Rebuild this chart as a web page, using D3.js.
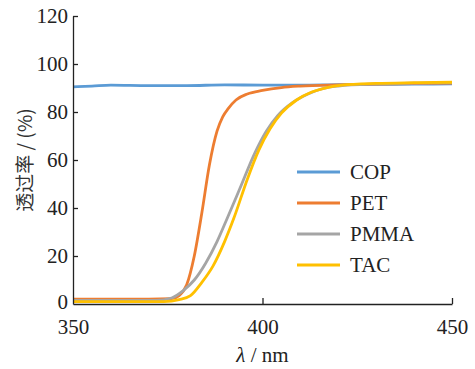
<!DOCTYPE html>
<html lang="zh">
<head>
<meta charset="utf-8">
<title>透过率</title>
<script src="https://cdn.jsdelivr.net/npm/d3@7"></script>
<style>
  body { margin: 0; background: #fff; }
  svg text { font-family: "Liberation Serif", "Times New Roman", Times, serif; }
  .axis path, .axis line { stroke: #222; stroke-width: 1.3; }
  .line { fill: none; stroke-width: 2.8; stroke-linejoin: round; }
</style>
</head>
<body>
<script>
// data
var seriesNames = ["COP", "PET", "PMMA", "TAC"];
var colors = ["#5b9bd5", "#ed7d31", "#a5a5a5", "#ffc000"];

var copX = [350, 355, 360, 370, 380, 390, 400, 410, 420, 430, 440, 450];
var copY = [90.5, 90.8, 91.2, 91, 91, 91.3, 91.2, 91.2, 91.4, 91.5, 91.6, 91.7];

var petX = [350, 370, 376, 378, 380, 382, 384, 386, 388, 389.5, 391, 393, 396, 400, 405, 410, 420, 430, 450];
var petY = [2, 2, 2.2, 3.5, 8, 20, 38, 58, 72, 78, 81.5, 85, 87.5, 89, 90.2, 90.8, 91.3, 91.6, 92];

var pmmaX = [350, 372, 376, 379, 382, 385, 388, 390.5, 394, 398, 401, 404, 408, 412, 416, 420, 430, 440, 450];
var pmmaY = [1.5, 1.5, 2.5, 5.5, 10, 17, 26, 35, 48, 63, 72, 78.5, 84, 87.5, 89.8, 90.8, 91.7, 92, 92.2];

var tacX = [350, 374, 378, 381, 384, 387, 390, 392.5, 396, 399, 402, 405, 409, 413, 417, 421, 430, 440, 450];
var tacY = [1, 1, 1.8, 3.5, 9, 16, 26, 36, 52, 64, 73, 79.5, 85, 88.3, 90.2, 91.2, 91.9, 92.2, 92.4];

var xTicks = [350, 400, 450];
var yTicks = [0, 20, 40, 60, 80, 100, 120];

var w = 475, h = 369;
var padL = 73, padR = 452, padT = 16, padB = 304;
var serif = "'Liberation Serif', 'Times New Roman', Times, serif";
var fs = "21px";

var xScale = d3.scaleLinear().domain([350, 450]).range([padL, padR]);
var yScale = d3.scaleLinear().domain([0, 120]).range([padB, padT]);

var svg = d3.select("body").append("svg")
  .attr("width", w)
  .attr("height", h);

var allX = [copX, petX, pmmaX, tacX];
var allY = [copY, petY, pmmaY, tacY];
var series = seriesNames.map(function(name, i) {
  return {
    name: name,
    color: colors[i],
    points: allX[i].map(function(x, j) { return { x: x, y: allY[i][j] }; })
  };
});

var line = d3.line()
  .curve(d3.curveMonotoneX)
  .x(function(d) { return xScale(d.x); })
  .y(function(d) { return yScale(d.y); });

svg.selectAll(".line")
  .data(series)
  .enter().append("path")
  .attr("class", "line")
  .attr("stroke", function(d) { return d.color; })
  .attr("d", function(d) { return line(d.points); });

// x axis, ticks pointing up
var xAxis = svg.append("g")
  .attr("class", "axis")
  .attr("transform", "translate(0," + padB + ")")
  .call(d3.axisBottom(xScale).tickValues(xTicks).tickSize(-6).tickSizeOuter(0).tickPadding(15));
xAxis.selectAll(".tick").filter(function(d) { return d === 350; }).select("line").remove();

// y axis, ticks pointing right
var yAxis = svg.append("g")
  .attr("class", "axis")
  .attr("transform", "translate(" + padL + ",0)")
  .call(d3.axisLeft(yScale).tickValues(yTicks).tickSize(-5).tickSizeOuter(0).tickPadding(5));
yAxis.selectAll(".tick").filter(function(d) { return d === 0; }).select("line").remove();
yAxis.selectAll(".tick").filter(function(d) { return d === 0; }).select("text").attr("dy", "0.2em");

svg.selectAll(".axis text")
  .style("font-family", serif)
  .style("font-size", fs)
  .attr("fill", "#222");

// axis titles
svg.append("text")
  .attr("transform", "translate(25," + (padT + padB) / 2 + ") rotate(-90)")
  .attr("text-anchor", "middle")
  .attr("dy", "0.35em")
  .style("font-family", "'Noto Sans CJK SC', sans-serif")
  .style("font-size", "19px")
  .style("fill", "#333")
  .text("透过率 / (%)");

var xt = svg.append("text")
  .attr("x", (padL + padR) / 2)
  .attr("y", 362)
  .attr("text-anchor", "middle")
  .style("font-family", serif)
  .style("font-size", fs)
  .style("fill", "#222");
xt.append("tspan").style("font-style", "italic").text("λ");
xt.append("tspan").text(" / nm");

// legend
var rows = svg.append("g")
  .selectAll("g")
  .data(series)
  .enter().append("g")
  .attr("transform", function(d, i) { return "translate(297," + (172 + i * 31) + ")"; });
rows.append("line")
  .attr("x1", 0).attr("x2", 43)
  .attr("stroke", function(d) { return d.color; })
  .attr("stroke-width", 3);
rows.append("text")
  .attr("x", 53)
  .attr("dy", "0.35em")
  .style("font-family", serif)
  .style("font-size", fs)
  .style("fill", "#222")
  .text(function(d) { return d.name; });
</script>
</body>
</html>
